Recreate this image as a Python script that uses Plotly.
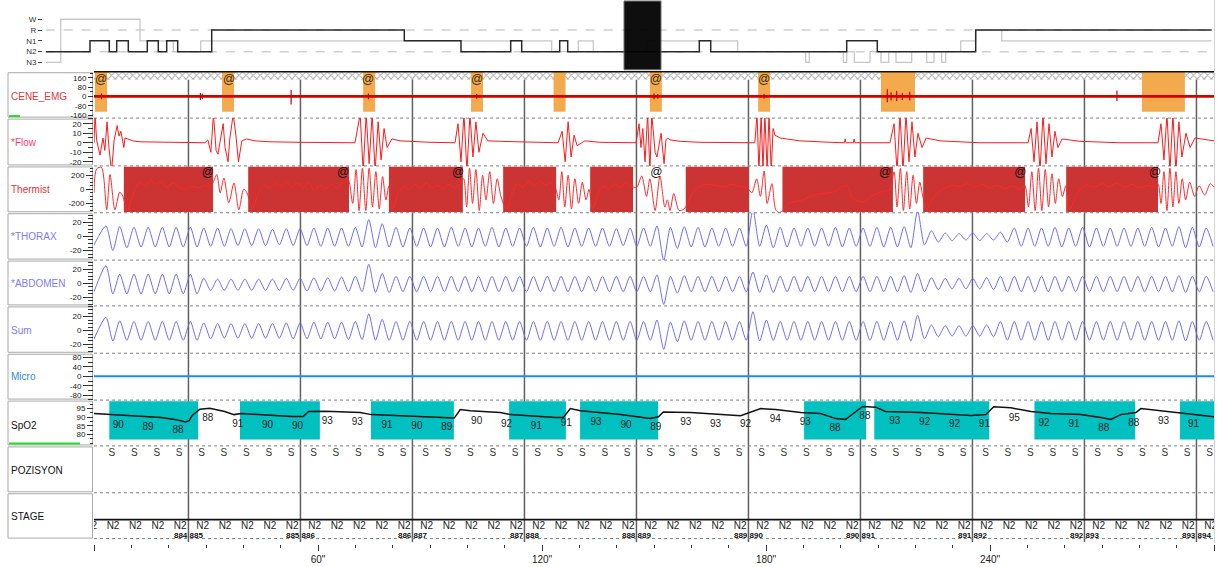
import plotly.graph_objects as go

W, H = 1217, 567
def px(x): return x / W
def py(y): return 1 - y / H

# ---------------- data ----------------
epoch_t = [25.3, 55.3, 85.3, 115.3, 145.3, 175.3, 205.3, 235.3, 265.3, 295.3]
epoch_left = ['884', '885', '886', '887', '888', '889', '890', '891', '892', '893']
epoch_right = ['885', '886', '887', '888', '889', '890', '891', '892', '893', '894']

xtick_vals = [0, 60, 120, 180, 240, 300]
xtick_text = ['', '60"', '120"', '180"', '240"', '300"']

# EMG events (orange) and markers
emg_ev_start = [0.27, 34.3, 72.1, 101.0, 123.1, 148.9, 177.9, 210.8, 280.7]
emg_ev_end = [3.5, 37.5, 75.3, 104.2, 126.3, 152.1, 181.1, 219.9, 292.2]
emg_at_t = [1.9, 36.2, 73.4, 102.6, 150.5, 179.5]
emg_spike_t = [2.0, 28.5, 29.0, 52.8, 73.5, 102.5, 150.0, 151.0, 179.5, 212.5, 213.5, 215.0, 216.5, 218.5, 274.0]
emg_spike_hi = [25, 30, 25, 55, 25, 20, 25, 20, 20, 60, 35, 45, 30, 40, 50]
emg_spike_lo = [-25, -30, -25, -70, -25, -20, -25, -20, -20, -50, -35, -40, -30, -35, -40]

# Flow (t, value)
flow_pts = [
    (0, 0), (0.27, 30), (0.7, 3), (1.6, -13), (2.4, 5), (2.9, -8), (3.5, 22), (4.0, -5), (4.7, -30), (5.4, 3),
    (6.2, 18), (6.7, 7), (7.2, 12), (8.0, -5), (8.3, 5), (10.4, 2), (12.3, 1), (17.7, 0.5), (29.7, 0),
    (30.5, 3), (31.3, -10), (32.0, 30), (32.7, -8), (33.2, -12), (34.2, 13), (34.6, 20), (35.1, -5), (35.9, -20),
    (36.4, 5), (37.3, 30), (38.0, 8), (38.7, -20), (39.6, 2), (40.9, 4), (43.1, 2), (47.1, 1), (55.2, 0.5), (68.6, 0),
    (69.9, 0), (71.3, 30), (72.1, -30), (72.9, 30), (73.7, -22), (74.5, 30), (75.3, -30), (76.1, 22), (76.9, -18),
    (77.7, 15), (78.5, -5), (79.8, 4), (82.0, 2), (90.0, 0.5), (96.7, 0),
    (97.5, 20), (98.3, -20), (99.1, 30), (99.9, -30), (100.7, 30), (101.5, -15), (102.3, 22), (103.1, -10),
    (104.2, 10), (105.5, 2), (108.8, 1.5), (119.5, 0.5), (124.3, 0),
    (125.4, 12), (126.2, -20), (127.0, 22), (127.8, -15), (128.6, 8), (129.4, -3), (131.5, 2), (135.5, 0.5), (145.2, 0),
    (146.0, 20), (146.5, -5), (147.0, 15), (147.6, -20), (148.3, 30), (148.9, -30), (149.4, 30), (150.3, -10),
    (150.8, -15), (151.9, 10), (152.7, -22), (153.2, 3), (153.7, 5), (154.3, 3), (157.0, 1.5), (162.3, 0.5), (175.0, 0),
    (177.0, 0), (177.6, 30), (178.1, -30), (178.7, 30), (179.2, -30), (179.7, 30), (180.3, -30), (180.8, 30),
    (181.4, -30), (181.9, 15), (182.4, 8), (183.8, 5), (189.1, 2), (197.2, 0.5), (201.0, 0), (201.2, 4), (201.4, 0),
    (203.4, 0), (203.6, 4), (203.8, 0), (213.2, 0),
    (214.3, 20), (215.1, -30), (215.9, 30), (216.7, -30), (217.5, 30), (218.3, -20), (219.1, 22), (219.9, -15),
    (220.7, 10), (221.8, -5), (222.9, 5), (226.6, 2), (237.3, 0),
    (250.2, 0), (251.0, 15), (251.8, -20), (252.6, 22), (253.4, -30), (254.2, 30), (255.0, -22), (255.8, 20),
    (256.6, -15), (257.4, 12), (258.2, -5), (259.3, 4), (264.1, 1.5), (274.8, 0),
    (285.0, 0), (285.8, 20), (286.6, -18), (287.4, 30), (288.2, -30), (289.0, 30), (289.8, -30), (290.6, 22),
    (291.4, -15), (292.5, 10), (293.6, -5), (294.9, 5), (297.6, 3), (300, 2)]

# Thermistor (t, value) and apnea boxes
thermist_pts = [
    (0, -50), (0.7, 290), (2.0, 310), (3.4, -290), (4.3, 210), (5.6, -290), (6.9, -40), (7.7, -95),
    (8.9, -310), (10.6, -50), (12.3, 100), (13.8, 50), (15.1, 140), (16.5, 70), (17.8, 110), (19.5, 30), (21.2, 90),
    (22.8, 30), (24.5, 0), (26.2, 40), (27.9, 20), (29.7, 60), (31.0, 30), (32.0, 110),
    (32.9, 210), (33.8, -50), (34.8, 160), (36.1, -190), (37.5, 90), (38.8, -290), (40.1, 0), (41.0, -50),
    (42.4, -280), (44, -60), (45.5, 60), (47, 20), (48.5, 80), (50, 40), (51.5, 110), (53, 30), (54.5, 90), (56, 20),
    (57.5, 100), (59, -20), (60.5, 60), (62, 0), (63.5, 80), (65, 10), (66.5, 90), (68, 150),
    (69.3, -200), (70.2, 280), (71, -300), (71.9, 300), (72.8, -300), (73.7, 300), (74.6, -250), (75.5, 250),
    (76.4, -280), (77.3, 180), (78.2, -150), (79, 50),
    (80, -280), (81.5, -60), (83, 40), (84.5, 0), (86, 70), (87.5, 10), (89, 90), (90.5, 20), (92, 60), (93.5, 0),
    (95, 70), (96.5, 20), (98, 80), (99, 150),
    (99.8, -250), (100.6, 300), (101.4, -200), (102.3, 280), (103.2, -300), (104.1, 200), (105, -150), (106, 250),
    (107, -200), (108, 150), (109, -100),
    (110.5, -290), (112, -50), (113.5, 80), (115, 30), (116.5, 120), (118, 50), (119.5, 110), (121, 60), (122.5, 100),
    (123.5, 40),
    (124.5, -150), (125.3, 250), (126.1, -250), (127, 200), (127.9, -280), (128.8, 150), (129.8, -200), (130.8, 100),
    (131.8, -150), (132.6, 0),
    (133.6, -280), (135, -80), (136.5, 50), (138, 0), (139.5, 80), (141, 20), (142.5, 100), (144, 40),
    (145.4, 30), (146.7, 190), (148, -100), (148.9, 150), (150.3, -300), (151.6, 190), (152.9, -250), (153.6, -150),
    (154.3, -300), (155.3, -60), (156.7, -300), (158, -280),
    (159.5, -150), (161, 0), (163, 60), (165, 70), (167, 50), (169, 40), (171, 70), (173, 40), (175, 20),
    (176.2, -50), (177.5, 150), (178.5, -100), (179.5, 260), (180.3, -200), (181.6, 80), (182.6, -290), (183.6, -330),
    (184.7, -290), (186, -200), (189.1, -160), (193.6, -70), (198, -40), (201.6, 60), (203.3, -130), (206, -180),
    (208.7, -80), (211.4, -30), (213.2, 0),
    (214.3, 250), (215.1, -250), (216, 300), (216.8, -300), (217.7, 250), (218.5, -280), (219.4, 200), (220.3, -200),
    (221.2, 100), (222, -100),
    (223, -280), (224.5, -150), (226, -50), (228, 20), (230, 60), (232, 40), (234, 80), (236, 30), (238, 70),
    (240, 20), (242, 60), (244, 10), (246, 50), (248, 0), (249.3, 60),
    (250.3, -250), (251.2, 250), (252.1, -300), (253, 300), (253.9, -300), (254.8, 280), (255.7, -250), (256.6, 220),
    (257.5, -200), (258.4, 150), (259.4, -100), (260.3, 50),
    (261.3, -290), (263, -100), (264.5, 20), (266, 60), (268, 30), (270, 80), (272, 40), (274, 90), (276, 30),
    (278, 70), (280, 20), (282, 60), (284, 30), (285, 80),
    (285.8, -200), (286.6, 250), (287.4, -300), (288.2, 300), (289, -250), (289.8, 250), (290.6, -200), (291.5, 150),
    (292.4, -150), (293.5, 100), (294.8, -100), (296, 50), (297.5, -80), (299, 80), (300, 30)]
therm_box_start = [8.0, 41.3, 79.0, 109.6, 132.9, 158.5, 184.4, 222.1, 260.4]
therm_box_end = [31.9, 68.3, 98.8, 123.8, 144.4, 175.4, 214.0, 249.4, 285.0]
therm_at_t = [-1.1, 30.5, 66.7, 97.5, 150.6, 211.9, 248.1, 284.2]

# Respiratory effort: breath peak times, peak and trough values per breath
eff_peak_t = [3.2, 6.9, 10.7, 14.5, 18.3, 22.0, 25.8, 29.4, 33.1, 36.7,
              40.4, 44.1, 47.8, 51.5, 55.2, 58.9, 62.6, 66.3, 70.0, 73.6,
              77.2, 80.9, 84.6, 88.3, 92.0, 95.7, 99.4, 103.0, 106.6, 110.3,
              114.0, 117.7, 121.4, 125.1, 128.8, 132.5, 136.2, 139.9, 143.6, 147.2,
              150.8, 154.4, 158.1, 161.8, 165.5, 169.2, 172.9, 176.5, 180.1, 183.8,
              187.5, 191.2, 194.9, 198.6, 202.3, 206.0, 209.7, 213.4, 217.0, 220.6,
              224.3, 228.0, 231.7, 235.4, 239.1, 242.8, 246.5, 250.2, 253.8, 257.4,
              261.1, 264.8, 268.5, 272.2, 275.9, 279.6, 283.3, 287.0, 290.6, 294.2,
              297.9]
thorax_pk = [15, 14, 13, 13, 13, 13, 13, 12, 12, 11,
             11, 11, 10, 11, 11, 12, 12, 12, 13, 24,
             18, 13, 12, 12, 12, 13, 12, 12, 13, 12,
             12, 13, 12, 13, 12, 12, 12, 11, 12, 12,
             15, 13, 14, 13, 12, 12, 12, 38, 16, 13,
             12, 12, 12, 13, 12, 12, 13, 13, 14, 37,
             8, 5, 4, 5, 4, 6, 12, 12, 12, 13,
             12, 13, 12, 12, 12, 12, 13, 12, 14, 13,
             12]
thorax_tr = [-20, -16, -15, -15, -15, -15, -15, -14, -14, -13,
             -13, -13, -12, -13, -13, -14, -14, -14, -15, -16,
             -15, -15, -14, -15, -15, -14, -15, -14, -15, -14,
             -14, -15, -14, -15, -14, -14, -14, -13, -14, -14,
             -34, -17, -15, -15, -14, -14, -14, -14, -16, -15,
             -14, -14, -14, -15, -14, -14, -15, -15, -16, -12,
             -8, -6, -5, -6, -5, -8, -14, -14, -14, -15,
             -14, -15, -14, -14, -14, -14, -15, -14, -16, -15,
             -14]
abd_pk = [25, 13, 13, 13, 13, 13, 13, 7, 6, 6,
          6, 6, 6, 7, 7, 8, 8, 9, 10, 27,
          14, 10, 10, 10, 10, 10, 10, 10, 10, 10,
          10, 10, 10, 10, 10, 10, 10, 10, 10, 10,
          12, 10, 11, 10, 10, 10, 10, 16, 12, 10,
          10, 10, 10, 10, 10, 10, 10, 10, 11, 14,
          8, 7, 7, 7, 8, 10, 10, 10, 10, 10,
          10, 10, 10, 10, 10, 10, 10, 10, 11, 10,
          10]
abd_tr = [-15, -15, -15, -15, -15, -15, -15, -10, -10, -10,
          -10, -10, -10, -10, -11, -11, -11, -12, -12, -13,
          -13, -12, -12, -12, -12, -12, -12, -12, -12, -12,
          -12, -12, -12, -12, -12, -12, -12, -12, -12, -12,
          -30, -14, -12, -12, -12, -12, -12, -13, -13, -12,
          -12, -12, -12, -12, -12, -12, -12, -12, -13, -12,
          -9, -8, -8, -8, -9, -12, -12, -12, -12, -12,
          -12, -12, -12, -12, -12, -12, -12, -12, -13, -12,
          -12]
sum_pk = [19, 14, 13, 13, 13, 13, 13, 11, 10, 10,
          10, 10, 10, 11, 11, 12, 12, 12, 13, 24,
          16, 13, 13, 13, 13, 13, 13, 13, 13, 13,
          13, 13, 13, 13, 13, 13, 13, 13, 13, 13,
          15, 12, 14, 13, 13, 13, 13, 27, 15, 13,
          13, 13, 13, 13, 13, 13, 13, 13, 14, 22,
          8, 7, 7, 7, 8, 13, 13, 13, 13, 13,
          13, 13, 13, 13, 13, 13, 13, 13, 14, 13,
          13]
sum_tr = [-15, -14, -14, -14, -14, -14, -14, -12, -11, -11,
          -11, -11, -11, -12, -12, -12, -12, -13, -13, -14,
          -14, -14, -14, -14, -14, -14, -14, -14, -14, -14,
          -14, -14, -14, -14, -14, -14, -14, -14, -14, -14,
          -27, -16, -14, -14, -14, -14, -14, -15, -14, -14,
          -14, -14, -14, -14, -14, -14, -14, -14, -15, -12,
          -9, -8, -8, -8, -9, -14, -14, -14, -14, -14,
          -14, -14, -14, -14, -14, -14, -14, -14, -15, -14,
          -14]

# SpO2 curve, desaturation boxes and value labels
spo2_t = [0, 6, 12, 18, 22, 24.5, 25.5, 26.3, 28.4, 31, 35, 37.5, 39.5, 45, 53, 56, 57.5, 62, 71.3, 74.3,
          87.4, 96.5, 98.1, 100.8, 108.8, 111.5, 123.6, 125.7, 127.6, 130.3, 141, 149, 151.2, 152.5, 159.8,
          173.2, 178.6, 182.6, 189.3, 194.6, 198.7, 201.3, 202.7, 205.9, 209.4, 212, 221.4, 226.8, 234.9,
          238.9, 241, 245.6, 251, 256.3, 264.3, 269.7, 272.4, 275, 279.1, 280.4, 285.8, 291.1, 300]
spo2_v = [92.1, 91.2, 90.4, 89.8, 88.6, 87.3, 88, 91, 94.6, 95.2, 93.3, 91.5, 92.1, 91.3, 90.4, 90.4, 93.3, 93.5,
          92.7, 91.5, 90.3, 89.5, 94.4, 93.8, 92.7, 91.5, 89.8, 89.8, 95, 93.8, 91.5, 89.2, 90.3, 93, 92.7,
          90.9, 95, 94.4, 92.7, 92.1, 89.2, 88.7, 91, 96.2, 95.8, 93.3, 92.7, 92.1, 91, 91.5, 96, 95.4, 93.3,
          92.1, 91.5, 89.8, 88.7, 91.5, 92.7, 95, 93.8, 92.7, 90.3]
desat_start = [4.1, 39.1, 74.2, 111.2, 130.2, 190.2, 209.0, 251.9, 290.9]
desat_end = [27.9, 60.5, 96.4, 126.4, 151.1, 206.8, 239.8, 278.9, 300.0]
spo2_label_t = [6.5 + 8 * k for k in range(37)]
spo2_labels = ['90', '89', '88', '88', '91', '90', '90', '93', '93', '91', '90', '89', '90', '92', '91', '91',
               '93', '90', '89', '93', '93', '92', '94', '93', '88', '88', '93', '92', '92', '91', '95', '92',
               '91', '88', '88', '93', '91']

# body position and sleep stage rows
pos_t = [4.8 + 6 * k for k in range(50)]
pos_labels = ['S'] * 50
stage_t = [5.1 + 6 * k for k in range(-1, 50)]
stage_labels = ['N2'] * 51

# hypnogram overview (N3=0, N2=1, N1=2, R=3, W=4)
hyp_dark_x = [0, 44.3, 63.6, 71, 82.6, 101.6, 112.6, 121, 132, 166, 358.6, 415.3, 465, 476, 514, 522, 653.6,
              665, 801, 831.6, 930, 1166]
hyp_dark_y = [1, 2, 1, 2, 1, 2, 1, 2, 1, 3, 2, 1, 2, 1, 2, 1, 2, 1, 2, 1, 3, 3]
hyp_light_x = [0, 15, 94.3, 127.6, 155, 506, 532.6, 547.6, 601, 692, 760, 763.6, 797.6, 801, 808.6, 824.3, 835.3,
               843, 850.3, 866, 881, 888.3, 896, 900, 915, 930, 956, 1166]
hyp_light_y = [0, 4, 2, 1, 2, 1, 2, 1, 2, 1, 0, 1, 0, 1, 0, 1, 0, 1, 0, 1, 0, 1, 0, 1, 2, 3, 2, 2]
hyp_levels = ['N3', 'N2', 'N1', 'R', 'W']
hyp_cursor = [578.3, 615.3]

# ---------------- layout geometry (pixels) ----------------
FONT = "Liberation Sans, Arial, sans-serif"
panels = {  # name: (top, bottom, range)
    'emg': (72, 118.5, [-186, 211]),
    'flow': (118.5, 166.5, [-24.3, 25.9]),
    'therm': (166.5, 213.5, [-332, 332]),
    'thorax': (213.5, 261, [-33.5, 33.6]),
    'abd': (261, 307, [-32.1, 33]),
    'sum': (307, 354.5, [-32.6, 35.3]),
    'micro': (354.5, 401.5, [-101, 98.5]),
    'spo2': (401.5, 447.5, [73.4, 99.9]),
    'pos': (447.5, 494.5, [0, 1]),
    'stage': (494.5, 541, [0, 1]),
}
order = ['emg', 'flow', 'therm', 'thorax', 'abd', 'sum', 'micro', 'spo2', 'pos', 'stage']
yname = {k: ('y' if i == 0 else 'y%d' % (i + 1)) for i, k in enumerate(order)}
tickinfo = {
    'emg': ([160, 80, 0, -80, -160], 40, 5),
    'flow': ([20, 10, 0, -10, -20], 5, 10),
    'therm': ([200, 0, -200], 50, 7),
    'thorax': ([20, 0, -20], 5, 10),
    'abd': ([20, 0, -20], 5, 10),
    'sum': ([20, 0, -20], 5, 10),
    'micro': ([80, 40, 0, -40, -80], 20, 10),
    'spo2': ([95, 90, 85, 80], 2.5, 6),
}

fig = go.Figure()
NOHOVER = dict(hoverinfo='skip', showlegend=False)

# hypnogram
fig.add_trace(go.Scatter(x=hyp_light_x, y=hyp_light_y, mode='lines', line=dict(color='#c8c8c8', width=1.3, shape='hv'),
                         xaxis='x2', yaxis='y11', **NOHOVER))
fig.add_trace(go.Scatter(x=hyp_dark_x, y=hyp_dark_y, mode='lines', line=dict(color='#2a2a2a', width=1.5, shape='hv'),
                         xaxis='x2', yaxis='y11', **NOHOVER))

# EMG hatch band, events, signal
fig.add_trace(go.Scatter(x=[0, 300, 300, 0, 0], y=[143, 143, 211, 211, 143], mode='lines', fill='toself',
                         fillcolor='white', line=dict(width=0),
                         fillpattern=dict(shape='x', fgcolor='#555555', bgcolor='white', size=5, solidity=0.35),
                         xaxis='x', yaxis='y', **NOHOVER))
bx, by = [], []
for s, e in zip(emg_ev_start, emg_ev_end):
    bx += [s, e, e, s, s, None]
    by += [-131, -131, 211, 211, -131, None]
fig.add_trace(go.Scatter(x=bx, y=by, mode='lines', fill='toself', fillcolor='#F2AA4C', line=dict(width=0),
                         xaxis='x', yaxis='y', **NOHOVER))
fig.add_trace(go.Scatter(x=[0, 300], y=[0, 0], mode='lines', line=dict(color='#d40000', width=2.6),
                         xaxis='x', yaxis='y', **NOHOVER))
sx, sy = [], []
for t, hi, lo in zip(emg_spike_t, emg_spike_hi, emg_spike_lo):
    sx += [t, t, None]
    sy += [lo, hi, None]
fig.add_trace(go.Scatter(x=sx, y=sy, mode='lines', line=dict(color='#d40000', width=1.2),
                         xaxis='x', yaxis='y', **NOHOVER))
fig.add_trace(go.Scatter(x=emg_at_t, y=[143] * len(emg_at_t), mode='text', text=['@'] * len(emg_at_t),
                         textfont=dict(size=12, color='#3a2a10', family=FONT), xaxis='x', yaxis='y', **NOHOVER))

# Flow
fig.add_trace(go.Scatter(x=[p[0] for p in flow_pts], y=[p[1] for p in flow_pts], mode='lines',
                         line=dict(color='#ff1a1a', width=1), xaxis='x', yaxis=yname['flow'], **NOHOVER))
# Thermistor
fig.add_trace(go.Scatter(x=[p[0] for p in thermist_pts], y=[p[1] for p in thermist_pts], mode='lines',
                         line=dict(color='#ff2a2a', width=1, shape='spline', smoothing=0.8),
                         xaxis='x', yaxis=yname['therm'], **NOHOVER))
fig.add_trace(go.Scatter(x=therm_at_t, y=[226] * len(therm_at_t), mode='text', text=['@'] * len(therm_at_t),
                         textfont=dict(size=12, color='#111111', family=FONT), cliponaxis=False,
                         xaxis='x', yaxis=yname['therm'], **NOHOVER))

# Effort channels
def effort(pk, tr, start):
    xs, ys = [0], [start]
    n = len(eff_peak_t)
    for i in range(n):
        xs.append(eff_peak_t[i]); ys.append(pk[i])
        tt = (eff_peak_t[i] + eff_peak_t[i + 1]) / 2 if i + 1 < n else eff_peak_t[i] + 1.85
        xs.append(tt); ys.append(tr[i])
    return xs, ys

for key, pk, tr in [('thorax', thorax_pk, thorax_tr), ('abd', abd_pk, abd_tr), ('sum', sum_pk, sum_tr)]:
    xs, ys = effort(pk, tr, -12)
    fig.add_trace(go.Scatter(x=xs, y=ys, mode='lines', line=dict(color='#6c6cff', width=1, shape='spline', smoothing=0.7),
                             xaxis='x', yaxis=yname[key], **NOHOVER))

# Micro
fig.add_trace(go.Scatter(x=[0, 300], y=[0, 0], mode='lines', line=dict(color='#1e8fe0', width=2),
                         xaxis='x', yaxis=yname['micro'], **NOHOVER))
# SpO2
fig.add_trace(go.Scatter(x=spo2_t, y=spo2_v, mode='lines', line=dict(color='#111111', width=1.5),
                         xaxis='x', yaxis=yname['spo2'], **NOHOVER))

def interp(t, xs, ys):
    for i in range(len(xs) - 1):
        if xs[i] <= t <= xs[i + 1]:
            f = (t - xs[i]) / (xs[i + 1] - xs[i])
            return ys[i] + f * (ys[i + 1] - ys[i])
    return ys[-1]

fig.add_trace(go.Scatter(x=spo2_label_t, y=[interp(t, spo2_t, spo2_v) - 3.0 for t in spo2_label_t], mode='text',
                         text=spo2_labels, textposition='bottom center',
                         textfont=dict(size=10, color='#222222', family=FONT),
                         xaxis='x', yaxis=yname['spo2'], **NOHOVER))
# Position
fig.add_trace(go.Scatter(x=pos_t, y=[0.84] * len(pos_t), mode='text', text=pos_labels,
                         textfont=dict(size=10, color='#333333', family=FONT),
                         xaxis='x', yaxis=yname['pos'], **NOHOVER))
# Stage
fig.add_trace(go.Scatter(x=stage_t, y=[0.28] * len(stage_t), mode='text', text=stage_labels,
                         textfont=dict(size=10, color='#222222', family=FONT),
                         xaxis='x', yaxis=yname['stage'], **NOHOVER))
fig.add_trace(go.Scatter(x=[t - 0.3 for t in epoch_t], y=[0.075] * len(epoch_t),
                         mode='text', text=['<b>%s</b>' % s for s in epoch_left],
                         textposition='middle left', textfont=dict(size=8, color='#111111', family=FONT),
                         xaxis='x', yaxis=yname['stage'], **NOHOVER))
fig.add_trace(go.Scatter(x=[t + 0.3 for t in epoch_t], y=[0.075] * len(epoch_t),
                         mode='text', text=['<b>%s</b>' % s for s in epoch_right],
                         textposition='middle right', textfont=dict(size=8, color='#111111', family=FONT),
                         xaxis='x', yaxis=yname['stage'], **NOHOVER))

# ---------------- shapes ----------------
shapes = []
for k in order:
    top, bot, _ = panels[k]
    shapes.append(dict(type='rect', xref='paper', yref='paper', x0=px(8), x1=px(92.5), y0=py(bot - 1), y1=py(top + 1),
                       line=dict(color='#a8a8a8', width=1), fillcolor='white', layer='below'))
for s, e in zip(therm_box_start, therm_box_end):
    shapes.append(dict(type='rect', xref='x', yref=yname['therm'], x0=s, x1=e, y0=-320, y1=320,
                       fillcolor='#cc3333', line=dict(width=0), layer='below'))
for t in epoch_t:
    shapes.append(dict(type='line', xref='x', yref='paper', x0=t, x1=t, y0=py(544), y1=py(72),
                       line=dict(color='#606060', width=1.5), layer='below'))
for s, e in zip(desat_start, desat_end):
    shapes.append(dict(type='rect', xref='x', yref=yname['spo2'], x0=s, x1=e, y0=77.1, y1=99.2,
                       fillcolor='#00c0c0', line=dict(width=0), layer='below'))
for yy in [118.5, 166.5, 213.5, 261, 307, 354.5, 401.5, 447.5, 494.5, 540.5]:
    shapes.append(dict(type='line', xref='paper', yref='paper', x0=px(94), x1=px(1214), y0=py(yy), y1=py(yy),
                       line=dict(color='#808080', width=1, dash='dot'), layer='below'))
shapes.append(dict(type='line', xref='paper', yref='paper', x0=px(94), x1=px(1214), y0=py(521.5), y1=py(521.5),
                   line=dict(color='#111111', width=1.6)))
shapes.append(dict(type='line', xref='paper', yref='paper', x0=px(94), x1=px(1214), y0=py(72), y1=py(72),
                   line=dict(color='#111111', width=1.5)))
shapes.append(dict(type='line', xref='paper', yref='paper', x0=px(1214.5), x1=px(1214.5), y0=py(545), y1=py(0),
                   line=dict(color='#d4d4d4', width=1)))
for lvl in [3, 1]:
    shapes.append(dict(type='line', xref='x2', yref='y11', x0=0, x1=1168, y0=lvl, y1=lvl,
                       line=dict(color='#d0d0d0', width=1.5, dash='dash'), layer='below'))
shapes.append(dict(type='rect', xref='x2', yref='paper', x0=hyp_cursor[0], x1=hyp_cursor[1], y0=py(70), y1=py(1),
                   fillcolor='black', opacity=0.94, line=dict(color='#666666', width=1)))
shapes.append(dict(type='rect', xref='paper', yref='paper', x0=px(9), x1=px(20), y0=py(117.5), y1=py(115.5),
                   fillcolor='#22dd22', line=dict(width=0)))
shapes.append(dict(type='rect', xref='paper', yref='paper', x0=px(9), x1=px(80), y0=py(446), y1=py(444),
                   fillcolor='#22dd22', line=dict(width=0)))

# ---------------- channel labels ----------------
label_info = [('CENE_EMG', '#e2363c', 96.7), ('*Flow', '#ff3d6a', 143.3), ('Thermist', '#f03030', 190),
              ('*THORAX', '#7c7cf4', 237.3), ('*ABDOMEN', '#7c7cf4', 284.3), ('Sum', '#7c7cf4', 331.7),
              ('Micro', '#1e8fe0', 378), ('SpO2', '#111111', 426.7), ('POZISYON', '#111111', 472.3),
              ('STAGE', '#111111', 518.3)]
annotations = [dict(text=t, x=px(9), y=py(yy), xref='paper', yref='paper', xanchor='left', yanchor='middle',
                    showarrow=False, font=dict(size=10, color=c, family=FONT)) for t, c, yy in label_info]

layout = dict(
    width=W, height=H, margin=dict(l=0, r=0, t=0, b=0),
    paper_bgcolor='white', plot_bgcolor='rgba(0,0,0,0)', showlegend=False,
    font=dict(family=FONT, color='#222222'),
    shapes=shapes, annotations=annotations,
    xaxis=dict(domain=[px(94), px(1214)], range=[0, 300], anchor='free', position=py(545.5),
               tickmode='array', tickvals=xtick_vals, ticktext=xtick_text, ticks='outside', ticklen=6,
               tickcolor='#333333', tickfont=dict(size=10, color='#222222'), showgrid=False, zeroline=False,
               showline=False, minor=dict(ticks='outside', ticklen=3, tickcolor='#333333', dtick=10, tick0=0,
                                          showgrid=False)),
    xaxis2=dict(domain=[px(45.7), px(1213.7)], range=[0, 1168], anchor='y11', visible=False),
    yaxis11=dict(domain=[py(68.1), py(13.9)], range=[-0.5, 4.5], anchor='free', position=px(42),
                 tickmode='array', tickvals=[0, 1, 2, 3, 4], ticktext=hyp_levels, ticks='outside', ticklen=4,
                 tickcolor='#444444', tickfont=dict(size=8, color='#333333'), showgrid=False, zeroline=False,
                 showline=False),
)
for k in order:
    top, bot, rng = panels[k]
    key = 'yaxis' if yname[k] == 'y' else 'yaxis' + yname[k][1:]
    ax = dict(domain=[py(bot), py(top)], range=rng, anchor='x', showgrid=False, zeroline=False, showline=False)
    if k in tickinfo:
        vals, mdt, tl = tickinfo[k]
        ax.update(tickmode='array', tickvals=vals, ticktext=[str(v) for v in vals], ticks='outside', ticklen=tl,
                  tickcolor='#333333', tickfont=dict(size=8, color='#222222'),
                  minor=dict(ticks='outside', ticklen=max(3, tl // 2), tickcolor='#333333', dtick=mdt, tick0=0,
                             showgrid=False))
    else:
        ax.update(showticklabels=False, ticks='')
    layout[key] = ax

fig.update_layout(**layout)
fig.write_html("out.html", config={'displayModeBar': False},
               post_script="document.body.style.margin='0px';document.body.style.overflow='hidden';")
